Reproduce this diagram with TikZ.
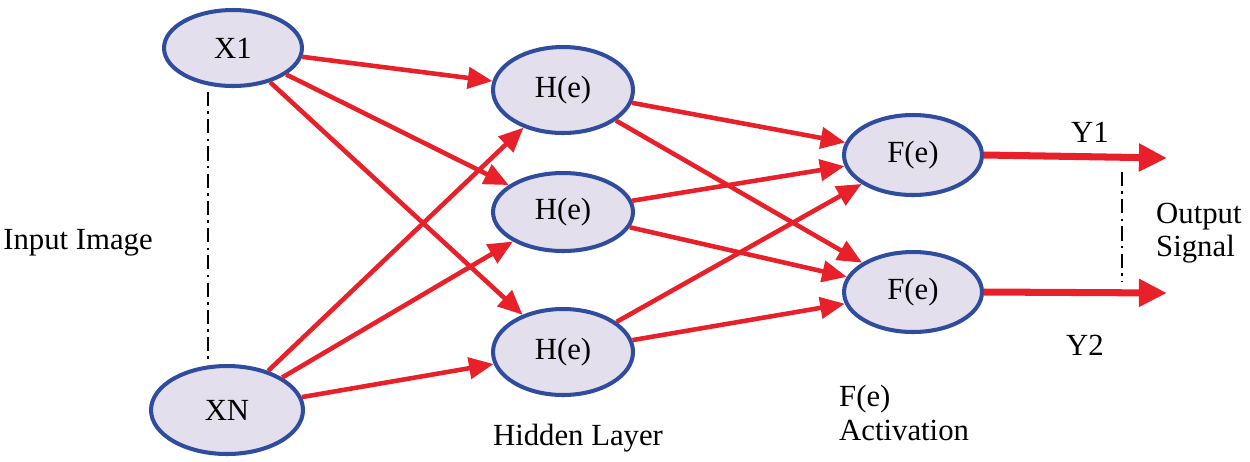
\documentclass[tikz,border=0pt]{standalone}
\usepackage{fontspec}
\setmainfont{Liberation Serif}
\usetikzlibrary{arrows.meta,shapes.geometric}
\definecolor{nfill}{HTML}{E4DFEC}
\definecolor{nborder}{HTML}{2F4C9E}
\definecolor{ared}{HTML}{E8202A}
\begin{document}
\begin{tikzpicture}[x=0.02cm,y=-0.02cm,
  neuron/.style={ellipse,draw=nborder,fill=nfill,line width=2.3pt,inner sep=0pt,font=\fontsize{17.5}{19}\selectfont},
  conn/.style={draw=ared,line width=2.6pt,-{Triangle[length=14pt,width=12pt]}},
  outc/.style={draw=ared,line width=4pt,-{Triangle[length=16pt,width=15pt]}},
  lbl/.style={font=\fontsize{17.5}{19}\selectfont,align=left},
  dd/.style={line width=0.8pt,dash pattern=on 8pt off 3pt on 1.5pt off 3pt}]
\useasboundingbox (0,0) rectangle (1250,461);
\node[neuron,minimum width=2.76cm,minimum height=1.52cm] (x1) at (233,48) {X1};
\node[neuron,minimum width=3.04cm,minimum height=1.76cm] (xn) at (227,410) {XN};
\node[neuron,minimum width=2.8cm,minimum height=1.72cm] (h1) at (563,90) {H(e)};
\node[neuron,minimum width=2.8cm,minimum height=1.56cm] (h2) at (563,212) {H(e)};
\node[neuron,minimum width=2.8cm,minimum height=1.72cm] (h3) at (563,352) {H(e)};
\node[neuron,minimum width=2.76cm,minimum height=1.6cm] (f1) at (913,155) {F(e)};
\node[neuron,minimum width=2.76cm,minimum height=1.6cm] (f2) at (913,292) {F(e)};
\coordinate (o1) at (1167,158);
\coordinate (o2) at (1167,293);
\foreach \a in {x1,xn}{\foreach \b in {h1,h2,h3}{\draw[conn] (\a) -- (\b);}}
\foreach \a in {h1,h2,h3}{\foreach \b in {f1,f2}{\draw[conn] (\a) -- (\b);}}
\draw[outc] (f1.east) -- (o1);
\draw[outc] (f2.east) -- (o2);
\coordinate (d1a) at (208,92); \coordinate (d1b) at (208,364);
\draw[dd] (d1a) -- (d1b);
\coordinate (d2a) at (1122,172); \coordinate (d2b) at (1122,282);
\draw[dd] (d2a) -- (d2b);
\node[lbl] (in) at (78,243) {Input Image};
\node[lbl] (y1) at (1090,132) {Y1};
\node[lbl] (y2) at (1085,345) {Y2};
\node[lbl,anchor=west] (os) at (1150,233) {Output\\Signal};
\node[lbl] (hl) at (578,438) {Hidden Layer};
\node[lbl,anchor=west] (fa) at (833,413) {F(e)\\Activation};
\end{tikzpicture}
\end{document}
